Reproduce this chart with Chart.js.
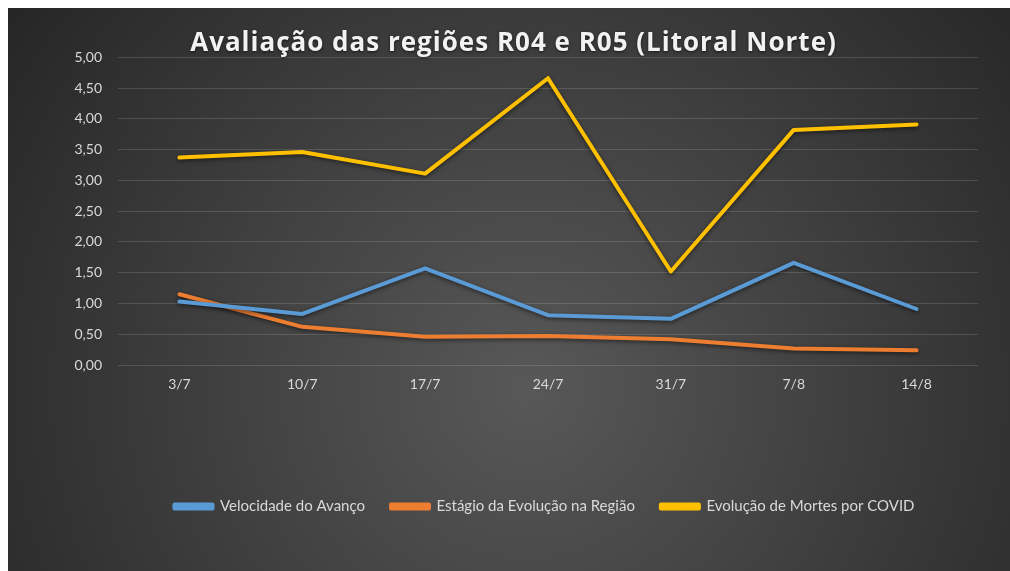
<!DOCTYPE html>
<html>
<head>
<meta charset="utf-8">
<script src="https://cdn.jsdelivr.net/npm/chart.js@4/dist/chart.umd.min.js"></script>
<style>
  html, body { margin: 0; padding: 0; background: #ffffff; }
  #wrap { position: absolute; left: 8px; top: 8px; width: 1002px; height: 563px; }
</style>
</head>
<body>
<div id="wrap"><canvas id="c" width="1002" height="563"></canvas></div>
<script>
const titleText = 'Avaliação das regiões R04 e R05 (Litoral Norte)';
const categories = ['3/7', '10/7', '17/7', '24/7', '31/7', '7/8', '14/8'];
const seriesNames = ['Velocidade do Avanço', 'Estágio da Evolução na Região', 'Evolução de Mortes por COVID'];
const velocidade = [1.03, 0.83, 1.57, 0.81, 0.75, 1.66, 0.91];
const estagio = [1.15, 0.62, 0.46, 0.47, 0.42, 0.27, 0.24];
const mortes = [3.37, 3.46, 3.11, 4.66, 1.52, 3.82, 3.91];
const seriesColors = ['#5B9BD5', '#ED7D31', '#FFC000'];
const yTicks = [0, 0.5, 1, 1.5, 2, 2.5, 3, 3.5, 4, 4.5, 5];

const bgPlugin = {
  id: 'bg',
  beforeDraw(chart) {
    const ctx = chart.ctx;
    const w = chart.width, h = chart.height;
    ctx.save();
    const g = ctx.createRadialGradient(520, 380, 0, 520, 380, 640);
    g.addColorStop(0, '#585858');
    g.addColorStop(1, '#262626');
    ctx.fillStyle = g;
    ctx.fillRect(0, 0, w, h);
    ctx.restore();
  }
};

const shadowPlugin = {
  id: 'lineShadow',
  beforeDatasetDraw(chart) {
    const ctx = chart.ctx;
    ctx.save();
    ctx.shadowColor = 'rgba(0,0,0,0.55)';
    ctx.shadowBlur = 4;
    ctx.shadowOffsetX = 0;
    ctx.shadowOffsetY = 1.5;
  },
  afterDatasetDraw(chart) {
    chart.ctx.restore();
  }
};

const tweakPlugin = {
  id: 'tweaks',
  afterLayout(chart) {
    const dx = 31;
    chart.legend.left += dx;
    chart.legend.right += dx;
    const tb = chart.titleBlock;
    if (tb && !tb._wrapped) {
      const orig = tb.draw;
      tb.draw = function () {
        const ctx = this.ctx;
        ctx.save();
        ctx.letterSpacing = '1px';
        ctx.shadowColor = 'rgba(0,0,0,0.6)';
        ctx.shadowBlur = 3;
        ctx.shadowOffsetY = 1;
        orig.apply(this, arguments);
        ctx.restore();
      };
      tb._wrapped = true;
    }
  }
};

const dataArrays = [velocidade, estagio, mortes];
const datasets = dataArrays.map((arr, i) => ({
  label: seriesNames[i],
  data: arr,
  borderColor: seriesColors[i],
  backgroundColor: seriesColors[i],
  borderWidth: 4,
  pointRadius: 0,
  pointHoverRadius: 0,
  tension: 0,
  borderCapStyle: 'round',
  borderJoinStyle: 'round',
  fill: false
}));

new Chart(document.getElementById('c'), {
  type: 'line',
  data: { labels: categories, datasets: datasets },
  plugins: [bgPlugin, shadowPlugin, tweakPlugin],
  options: {
    responsive: false,
    animation: false,
    devicePixelRatio: 1,
    layout: { padding: { left: 41, right: 32, top: 0, bottom: 47 } },
    plugins: {
      title: {
        display: true,
        text: titleText,
        color: '#f2f2f2',
        font: { family: 'Open Sans', size: 26, weight: 'bold' },
        padding: { top: 19.9, bottom: -1.8 }
      },
      legend: {
        display: true,
        position: 'bottom',
        labels: {
          color: '#d9d9d9',
          font: { family: 'Lato', size: 15 },
          boxWidth: 38,
          boxHeight: 4,
          padding: 26
        }
      },
      tooltip: { enabled: false }
    },
    scales: {
      x: {
        offset: true,
        grid: { display: false, drawTicks: false, offset: true },
        border: { display: false },
        ticks: {
          color: '#d9d9d9',
          font: { family: 'Lato', size: 14 },
          padding: 11,
          maxRotation: 0
        },
        afterFit(s) { s.height = 108; }
      },
      y: {
        min: 0,
        max: 5,
        afterBuildTicks(s) { s.ticks = yTicks.map(v => ({ value: v })); },
        grid: { color: 'rgba(255,255,255,0.14)', lineWidth: 1, drawTicks: false },
        border: { display: false },
        ticks: {
          color: '#d9d9d9',
          font: { family: 'Lato', size: 14 },
          padding: 16,
          callback: (v) => Number(v).toFixed(2).replace('.', ',')
        },
        afterFit(s) { s.width = 69; }
      }
    }
  }
});
</script>
</body>
</html>
